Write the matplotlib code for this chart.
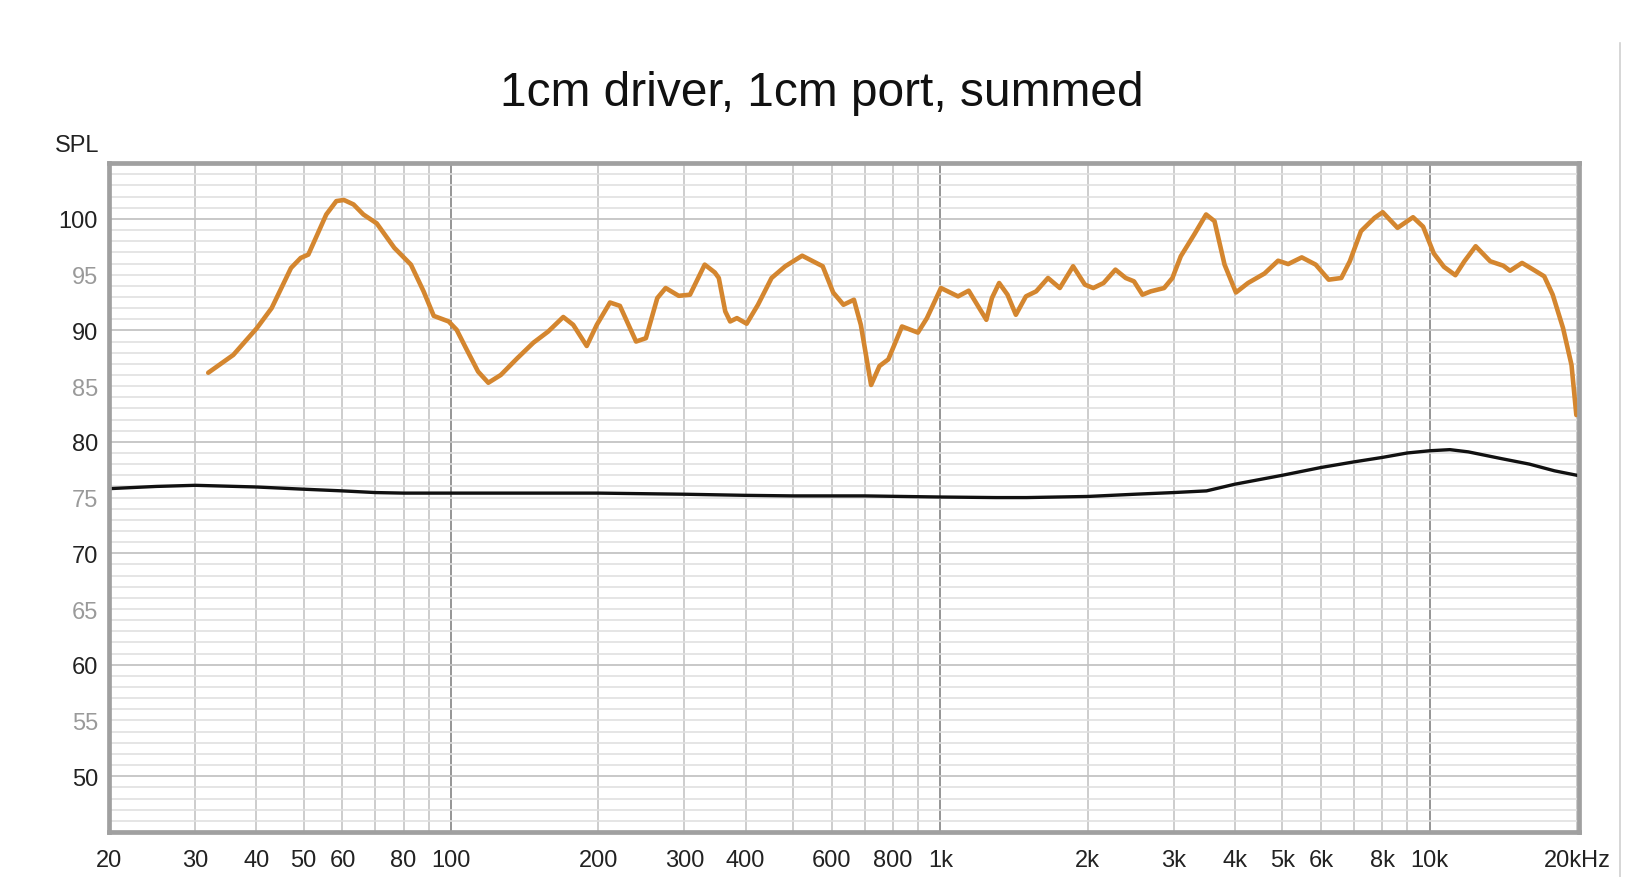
import matplotlib
matplotlib.use("Agg")
import matplotlib.pyplot as plt
from matplotlib.lines import Line2D

plt.rcParams['font.family'] = ['Liberation Sans', 'DejaVu Sans']

# summed response (orange)
freq_sum = [31.9, 35.9, 40.1, 43.0, 47.1, 49.3, 51.1, 55.6, 58.3, 60.4, 63.2, 66.2,
            70.5, 76.6, 82.8, 87.9, 92.2, 98.9, 102.7, 107.3, 113.6, 119.2, 126.4,
            136.6, 147.4, 158.0, 169.6, 177.7, 189.4, 198.6, 211.3, 221.4, 238.9,
            250.2, 264.0, 274.6, 292.0, 307.9, 330, 346, 352.6, 363.5, 372, 384, 402,
            424, 452, 482, 522, 575, 604, 634, 666, 688, 722, 751, 783, 835, 900, 939,
            1003, 1087, 1143, 1242, 1275, 1319, 1372, 1427, 1496, 1570, 1660, 1755,
            1868, 1975, 2054, 2156, 2280, 2393, 2488, 2589, 2692, 2867, 2981, 3101,
            3303, 3493, 3634, 3810, 4020, 4255, 4597, 4902, 5140, 5480, 5850, 6220,
            6600, 6870, 7240, 7720, 8020, 8600, 9250, 9700, 10200, 10700, 11290,
            11780, 12420, 13300, 14150, 14600, 15450, 16220, 17150, 17850, 18740,
            19500, 19950]
spl_sum = [86.2, 87.8, 90.2, 92.0, 95.6, 96.5, 96.8, 100.4, 101.6, 101.7, 101.3, 100.4,
           99.6, 97.4, 95.9, 93.5, 91.3, 90.8, 90.05, 88.4, 86.3, 85.3, 86.0,
           87.5, 88.9, 89.9, 91.2, 90.5, 88.6, 90.5, 92.5, 92.2, 89.0,
           89.3, 92.9, 93.8, 93.1, 93.2, 95.9, 95.2, 94.7, 91.7, 90.8, 91.1, 90.6,
           92.3, 94.7, 95.75, 96.7, 95.75, 93.4, 92.3, 92.75, 90.5, 85.1, 86.8, 87.4,
           90.35, 89.8, 91.1, 93.8, 93.05, 93.56, 90.95, 92.9, 94.25, 93.2, 91.4,
           93.05, 93.5, 94.7, 93.8, 95.75, 94.1, 93.8, 94.25, 95.45, 94.7, 94.4,
           93.2, 93.5, 93.8, 94.7, 96.65, 98.6, 100.4, 99.8, 95.9, 93.4, 94.25,
           95.1, 96.25, 95.95, 96.55, 95.9, 94.55, 94.7, 96.2, 98.9, 100.1, 100.6,
           99.2, 100.15, 99.3, 96.9, 95.7, 94.95, 96.2, 97.55, 96.2, 95.8, 95.35,
           96.05, 95.5, 94.85, 93.2, 90.2, 86.9, 82.4]

# second trace (black)
freq_ref = [20, 25, 30, 40, 50, 60, 70, 80, 100, 150, 200, 300, 400, 500, 700, 1000,
            1300, 1500, 2000, 2500, 3000, 3500, 4000, 5000, 6000, 7000, 8000, 9000,
            10000, 11000, 12000, 14000, 16000, 18000, 20000]
spl_ref = [75.8, 76.0, 76.1, 75.95, 75.75, 75.6, 75.45, 75.4, 75.4, 75.4, 75.4, 75.3,
           75.2, 75.15, 75.15, 75.05, 75.0, 75.0, 75.1, 75.3, 75.45, 75.6, 76.2, 77.0,
           77.7, 78.2, 78.6, 79.0, 79.2, 79.3, 79.1, 78.5, 78.0, 77.4, 77.0]

x_ticks = [20, 30, 40, 50, 60, 80, 100, 200, 300, 400, 600, 800, 1000, 2000, 3000,
           4000, 5000, 6000, 8000, 10000, 20000]
x_labels = ['20', '30', '40', '50', '60', '80', '100', '200', '300', '400', '600', '800',
            '1k', '2k', '3k', '4k', '5k', '6k', '8k', '10k', '20kHz']
y_ticks = [50, 55, 60, 65, 70, 75, 80, 85, 90, 95, 100]

fig = plt.figure(figsize=(16.27, 8.78), dpi=100)
ax = fig.add_axes([0.067, 0.0513, 0.9035, 0.7617])
ax.set_xscale('log')
ax.set_xlim(20, 20200)
ax.set_ylim(45, 105)

# grid
for dec in (10, 100, 1000, 10000):
    for m in range(1, 10):
        f = dec * m
        if f <= 20 or f > 20000:
            continue
        if m == 1:
            ax.axvline(f, color='#8c8c8c', lw=1.3, zorder=1)
        else:
            ax.axvline(f, color='#c9c9c9', lw=1.3, zorder=1)
for db in range(46, 105):
    if db % 10 == 0:
        ax.axhline(db, color='#c4c4c4', lw=1.3, zorder=1)
    else:
        ax.axhline(db, color='#e0e0e0', lw=1.2, zorder=1)

ax.plot(freq_ref, spl_ref, color='#111111', lw=2.4, zorder=3, solid_joinstyle='round')
ax.plot(freq_sum, spl_sum, color='#d4862f', lw=3.3, zorder=4,
        solid_joinstyle='round', solid_capstyle='round')

ax.set_xticks(x_ticks)
ax.set_xticklabels(x_labels)
ax.xaxis.set_minor_locator(matplotlib.ticker.NullLocator())
ax.set_yticks(y_ticks)
ax.set_yticklabels([str(v) for v in y_ticks])
for lbl, v in zip(ax.get_yticklabels(), y_ticks):
    lbl.set_color('#222222' if v % 10 == 0 else '#9a9a9a')
ax.tick_params(axis='both', length=0, labelsize=17)
ax.tick_params(axis='x', pad=12, labelcolor='#222222')
ax.tick_params(axis='y', pad=8)

for s in ax.spines.values():
    s.set_color('#a0a0a0')
    s.set_linewidth(3.4)
    s.set_zorder(5)

fig.text(0.0608, 0.834, 'SPL', ha='right', va='center', fontsize=17, color='#222222')
fig.text(0.505, 0.893, '1cm driver, 1cm port, summed', ha='center', va='center',
         fontsize=34.5, color='#111111')
fig.add_artist(Line2D([0.9957, 0.9957], [0.0, 0.95], transform=fig.transFigure,
                      color='#d0d0d0', lw=1.2))

fig.savefig('out.png', dpi=100)
